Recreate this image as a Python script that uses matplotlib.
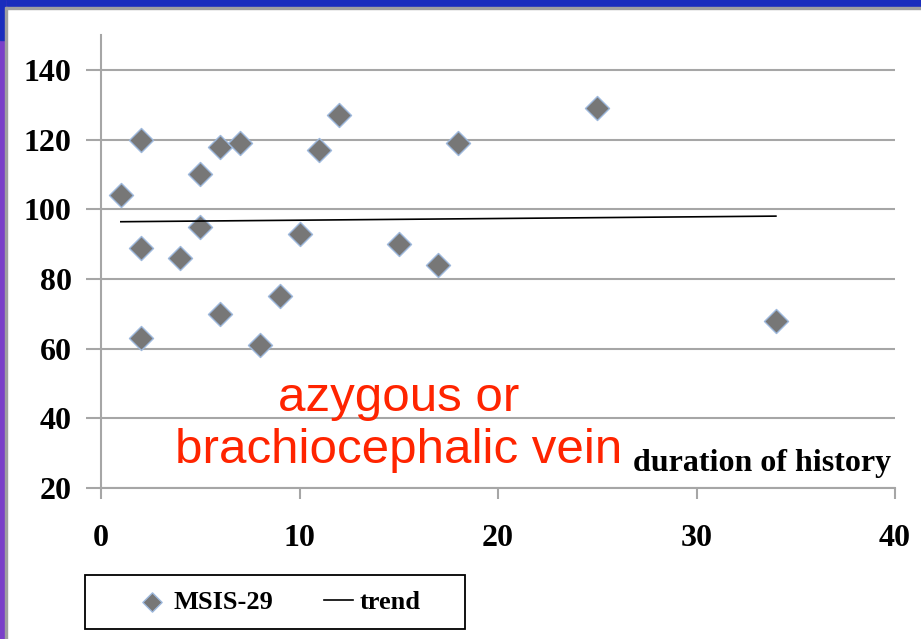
import numpy as np
import matplotlib.pyplot as plt
from matplotlib.patches import Rectangle

# duration of history (years) vs MSIS-29 score
duration = [1, 2, 2, 2, 4, 5, 5, 6, 6, 7, 8, 9, 10, 11, 12, 15, 17, 18, 25, 34]
msis = [104, 120, 89, 63, 86, 110, 95, 118, 70, 119, 61, 75, 93, 117, 127, 90, 84, 119, 129, 68]
x_ticks = [0, 10, 20, 30, 40]
y_ticks = [20, 40, 60, 80, 100, 120, 140]

serif = ['Liberation Serif', 'DejaVu Serif']
sans = ['Liberation Sans', 'DejaVu Sans']
grid_col = '#a6a6a6'

fig = plt.figure(figsize=(9.21, 6.39), dpi=100)
ax = fig.add_axes([101 / 921, 1 - 488 / 639, 794 / 921, 453 / 639])

# slide frame: blue bar on top, purple strip on the left
def frame_rect(x, y, w, h, c):
    fig.patches.append(Rectangle((x / 921, 1 - (y + h) / 639), w / 921, h / 639,
                                 transform=fig.transFigure, color=c, zorder=0))

frame_rect(0, 0, 921, 7, '#1a2dbd')
frame_rect(5, 7, 916, 2, '#a0a0a0')
frame_rect(0, 0, 5, 639, '#7a3fc8')
frame_rect(0, 0, 5, 40, '#1a2dbd')
frame_rect(5, 7, 2, 632, '#a0a0a0')

ax.scatter(duration, msis, marker='D', s=150, color='#777777', edgecolors='#9db8dc',
           linewidths=1.0, zorder=3, label='MSIS-29')

k, b = np.polyfit(duration, msis, 1)
xt = np.array([min(duration), max(duration)])
ax.plot(xt, k * xt + b, color='black', lw=1.2, zorder=4, label='trend')

ax.set_xlim(0, 40)
ax.set_ylim(20, 150)
ax.set_xticks(x_ticks)
ax.set_yticks(y_ticks)
ax.set_xticklabels([str(v) for v in x_ticks], family=serif, fontsize=23, fontweight='bold')
ax.set_yticklabels([str(v) for v in y_ticks], family=serif, fontsize=23, fontweight='bold')
ax.yaxis.grid(True, color=grid_col, lw=1.5)
ax.set_axisbelow(True)
for s in ['top', 'right']:
    ax.spines[s].set_visible(False)
for s in ['left', 'bottom']:
    ax.spines[s].set_color(grid_col)
    ax.spines[s].set_linewidth(1.5)
ax.tick_params(axis='y', length=11, width=1.5, color=grid_col, pad=10)
ax.tick_params(axis='x', length=8, width=1.5, color=grid_col, pad=18)

ax.text(0.995, 17 / 453, 'duration of history', transform=ax.transAxes, ha='right',
        va='baseline', family=serif, fontsize=23, fontweight='bold')
ax.text(0.3745, 25 / 453, 'azygous or\nbrachiocephalic vein', transform=ax.transAxes,
        ha='center', va='baseline', multialignment='center', family=sans, fontsize=35.5,
        color='#ff2400', linespacing=1.2)

# legend frame drawn separately so its size matches the slide
frame = Rectangle((85 / 921, 1 - 629 / 639), 380 / 921, 54 / 639, transform=fig.transFigure,
                  facecolor='white', edgecolor='black', lw=1.3, zorder=1)
fig.patches.append(frame)
leg = fig.legend(loc='center', bbox_to_anchor=(279 / 921, 1 - 602 / 639), ncol=2,
                 frameon=False, prop={'family': serif, 'size': 19, 'weight': 'bold'},
                 handlelength=1.1, columnspacing=1.9, handletextpad=0.25, markerscale=0.8)
leg.set_zorder(2)

fig.savefig('out.png', dpi=100)
